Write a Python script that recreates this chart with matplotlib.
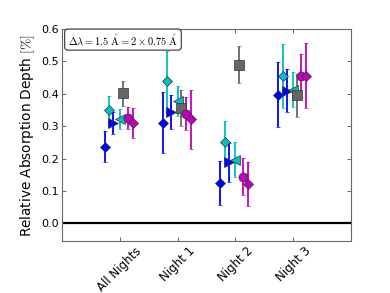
import matplotlib
matplotlib.use("Agg")
import matplotlib.pyplot as plt
import numpy as np

plt.rcParams["mathtext.fontset"] = "cm"

groups = ["All Nights", "Night 1", "Night 2", "Night 3"]

blue_diamond = [0.236, 0.310, 0.125, 0.397]
blue_diamond_err = [0.048, 0.094, 0.067, 0.100]
cyan_diamond = [0.349, 0.439, 0.252, 0.455]
cyan_diamond_err = [0.045, 0.094, 0.065, 0.100]
blue_tri = [0.310, 0.344, 0.188, 0.409]
blue_tri_err = [0.033, 0.053, 0.060, 0.066]
cyan_tri = [0.322, 0.378, 0.197, 0.413]
cyan_tri_err = [0.030, 0.046, 0.055, 0.053]
gray_square = [0.401, 0.356, 0.490, 0.395]
gray_square_err = [0.039, 0.055, 0.058, 0.066]
mag_circle = [0.325, 0.339, 0.144, 0.456]
mag_circle_err = [0.033, 0.050, 0.058, 0.066]
mag_diamond = [0.310, 0.321, 0.121, 0.456]
mag_diamond_err = [0.047, 0.090, 0.068, 0.100]

series = [
    (blue_diamond, blue_diamond_err, -0.26, "D", (0, 0, 1), 5.5),
    (cyan_diamond, cyan_diamond_err, -0.18, "D", (0, 0.75, 0.75), 5.5),
    (blue_tri, blue_tri_err, -0.11, ">", (0, 0, 1), 6.5),
    (cyan_tri, cyan_tri_err, 0.0, "<", (0, 0.75, 0.75), 6.5),
    (gray_square, gray_square_err, 0.06, "s", (0.4, 0.4, 0.4), 6.5),
    (mag_circle, mag_circle_err, 0.14, "o", (0.75, 0, 0.75), 6.5),
    (mag_diamond, mag_diamond_err, 0.225, "D", (0.75, 0, 0.75), 5.5),
]

fig = plt.figure(figsize=(3.9, 2.93), dpi=100)
ax = fig.add_axes([0.159, 0.177, 0.741, 0.724])

x = np.arange(1, len(groups) + 1)
for vals, errs, off, mk, col, ms in series:
    ax.errorbar(x + off, vals, yerr=errs, fmt=mk, color=col, ecolor=col,
                markersize=ms, markeredgecolor="0.2", markeredgewidth=0.5,
                elinewidth=1.3, capsize=1.5, capthick=1.0, zorder=3)

ax.axhline(0.0, color="k", lw=1.6, zorder=2)

ax.set_xlim(0, 5)
ax.set_ylim(-0.055, 0.6)
ax.set_xticks(x)
ax.set_xticklabels(groups, rotation=45, ha="center", fontsize=8.5)
ax.set_yticks(np.arange(0, 0.61, 0.1))
ax.set_yticklabels(["%.1f" % v for v in np.arange(0, 0.61, 0.1)], fontsize=8)
ax.tick_params(direction="in", top=True, right=True, length=3, width=0.6, color="0.3", pad=2.5)
for s in ax.spines.values():
    s.set_color("0.4")
    s.set_linewidth(0.8)

ax.set_ylabel(r"Relative Absorption Depth $[\%]$", fontsize=9.8, labelpad=3)

ax.text(0.02, 0.985,
        r"$\Delta\lambda = 1.5\ \mathring{\mathrm{A}} = 2\times0.75\ \mathring{\mathrm{A}}$",
        transform=ax.transAxes, fontsize=7.5, va="top", ha="left",
        bbox=dict(boxstyle="round,pad=0.3", fc="white", ec="0.2", lw=0.8))

fig.savefig("out.png", dpi=100)
